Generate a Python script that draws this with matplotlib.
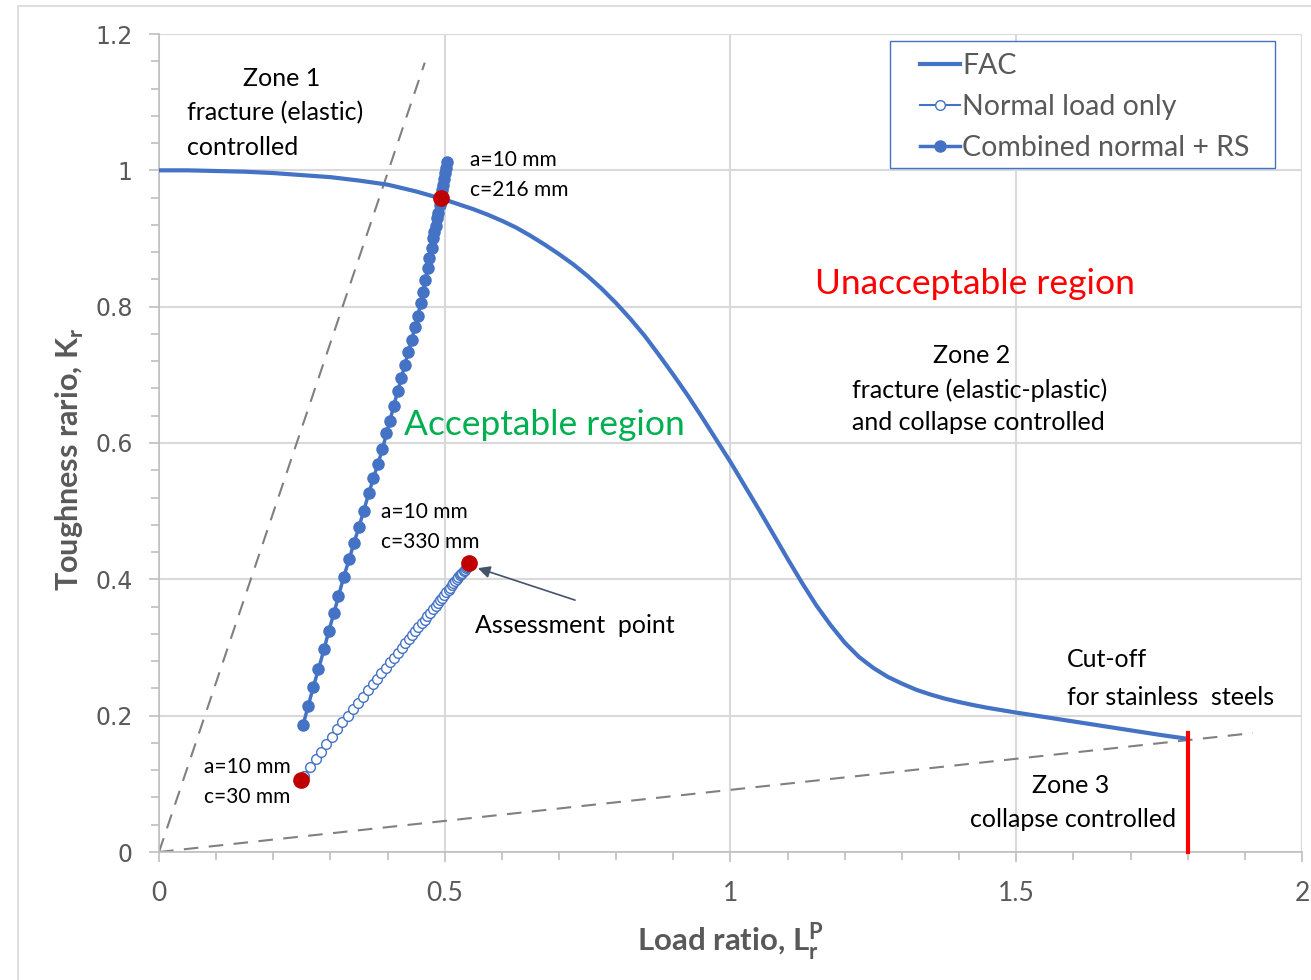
import matplotlib
matplotlib.use("Agg")
import matplotlib.pyplot as plt
from matplotlib.patches import Rectangle
from matplotlib.ticker import MultipleLocator

# ---- Failure assessment curve (FAC) ----
fac_lr = [0.00, 0.05, 0.10, 0.15, 0.20, 0.25, 0.30, 0.35, 0.40, 0.45,
          0.50, 0.525, 0.55, 0.575, 0.60, 0.625, 0.65, 0.675, 0.70, 0.725,
          0.75, 0.775, 0.80, 0.825, 0.85, 0.875, 0.90, 0.925, 0.95, 0.975,
          1.00, 1.025, 1.05, 1.075, 1.10, 1.125, 1.15, 1.175, 1.20, 1.225,
          1.25, 1.275, 1.30, 1.325, 1.35, 1.375, 1.40, 1.425, 1.45, 1.50,
          1.55, 1.60, 1.65, 1.70, 1.75, 1.80]
fac_kr = [1.000, 1.000, 0.999, 0.998, 0.996, 0.993, 0.990, 0.985, 0.979, 0.969,
          0.957, 0.950, 0.943, 0.935, 0.926, 0.916, 0.904, 0.891, 0.877, 0.862,
          0.845, 0.826, 0.805, 0.782, 0.757, 0.729, 0.700, 0.670, 0.638, 0.605,
          0.572, 0.537, 0.502, 0.466, 0.430, 0.395, 0.362, 0.333, 0.307, 0.286,
          0.270, 0.257, 0.247, 0.238, 0.231, 0.225, 0.220, 0.2155, 0.2115, 0.2045,
          0.198, 0.1915, 0.185, 0.1785, 0.172, 0.166]

# ---- Normal load only (a=10 mm, c from 30 to 330 mm) ----
normal_lr = [0.253, 0.264, 0.274, 0.284, 0.293, 0.303, 0.312, 0.321, 0.330, 0.340,
             0.348, 0.357, 0.365, 0.374, 0.382, 0.389, 0.397, 0.404, 0.411, 0.418,
             0.425, 0.431, 0.437, 0.443, 0.448, 0.454, 0.460, 0.465, 0.469, 0.474,
             0.479, 0.484, 0.488, 0.491, 0.495, 0.499, 0.503, 0.507, 0.510, 0.512,
             0.515, 0.518, 0.521, 0.524, 0.527, 0.529, 0.531, 0.533, 0.535, 0.537,
             0.539, 0.541]
normal_kr = [0.112, 0.124, 0.136, 0.147, 0.158, 0.169, 0.180, 0.190, 0.200, 0.210,
             0.219, 0.228, 0.237, 0.246, 0.254, 0.262, 0.270, 0.278, 0.285, 0.292,
             0.299, 0.306, 0.312, 0.318, 0.324, 0.330, 0.336, 0.341, 0.346, 0.351,
             0.356, 0.361, 0.365, 0.369, 0.373, 0.377, 0.381, 0.385, 0.388, 0.391,
             0.394, 0.397, 0.400, 0.403, 0.406, 0.408, 0.410, 0.412, 0.414, 0.416,
             0.418, 0.420]

# ---- Combined normal load + residual stress ----
combined_lr = [0.252, 0.261, 0.270, 0.279, 0.289, 0.297, 0.306, 0.314, 0.323, 0.333,
               0.341, 0.350, 0.358, 0.367, 0.375, 0.383, 0.391, 0.398, 0.404, 0.411,
               0.418, 0.424, 0.430, 0.436, 0.442, 0.448, 0.453, 0.458, 0.462, 0.466,
               0.470, 0.473, 0.477, 0.480, 0.482, 0.484, 0.487, 0.488, 0.491, 0.493,
               0.495, 0.497, 0.499, 0.501, 0.502, 0.504]
combined_kr = [0.186, 0.214, 0.242, 0.268, 0.298, 0.324, 0.350, 0.375, 0.403, 0.430,
               0.453, 0.477, 0.500, 0.526, 0.548, 0.569, 0.591, 0.614, 0.633, 0.655,
               0.677, 0.695, 0.714, 0.733, 0.751, 0.770, 0.787, 0.805, 0.821, 0.839,
               0.856, 0.871, 0.886, 0.900, 0.909, 0.919, 0.930, 0.938, 0.949, 0.959,
               0.971, 0.978, 0.987, 0.996, 1.003, 1.012]

# ---- Highlighted assessment points ----
assess_lr = [0.248, 0.543, 0.493]
assess_kr = [0.106, 0.424, 0.959]

# ---- Zone boundary rays from the origin and the Lr cut-off ----
zone1_ray_lr = [0.0, 0.465]
zone1_ray_kr = [0.0, 1.158]
zone3_ray_lr = [0.0, 1.914]
zone3_ray_kr = [0.0, 0.1745]
cutoff_lr = 1.8
cutoff_kr_top = 0.175

x_ticks = [0, 0.5, 1, 1.5, 2]
x_tick_labels = ["0", "0.5", "1", "1.5", "2"]
y_ticks = [0, 0.2, 0.4, 0.6, 0.8, 1.0, 1.2]
y_tick_labels = ["0", "0.2", "0.4", "0.6", "0.8", "1", "1.2"]

BLUE = "#4472C4"
DARKRED = "#C00000"
GRID = "#D9D9D9"
TICKTXT = "#595959"
TXT_FONT = ["Lato", "DejaVu Sans"]

fig = plt.figure(figsize=(13.11, 9.8), dpi=100)
fig.patch.set_facecolor("white")
# chart-area border
fig.patches.append(Rectangle((18 / 1311, -0.05), 1.2, 1 - 6 / 980 + 0.05,
                             transform=fig.transFigure, fill=False,
                             edgecolor="#D9D9D9", linewidth=1.2, zorder=0))

ax = fig.add_axes([159 / 1311, 1 - 852 / 980, (1302 - 159) / 1311, (852 - 34) / 980])
ax.set_xlim(0, 2)
ax.set_ylim(0, 1.2)

# grid and axes styling
ax.set_xticks(x_ticks)
ax.set_xticklabels(x_tick_labels, fontfamily=TXT_FONT, fontsize=19, color=TICKTXT)
ax.set_yticks(y_ticks)
ax.set_yticklabels(y_tick_labels, fontfamily="DejaVu Sans", fontsize=17, color=TICKTXT)
ax.xaxis.set_minor_locator(MultipleLocator(0.1))
ax.yaxis.set_minor_locator(MultipleLocator(0.04))
ax.tick_params(which="both", direction="out", color="#BFBFBF", width=1.2)
ax.tick_params(which="major", length=7)
ax.tick_params(which="minor", length=6)
ax.tick_params(axis="x", pad=14)
ax.tick_params(axis="y", pad=12)
ax.grid(True, which="major", color=GRID, linewidth=1.5, zorder=0)
for side in ("top", "right"):
    ax.spines[side].set_visible(False)
for side in ("left", "bottom"):
    ax.spines[side].set_color("#BFBFBF")
    ax.spines[side].set_linewidth(1.2)
ax.set_axisbelow(True)

# boundary rays
ax.plot(zone1_ray_lr, zone1_ray_kr, color="#808080", lw=1.5, dashes=(7, 5), zorder=2)
ax.plot(zone3_ray_lr, zone3_ray_kr, color="#808080", lw=1.5, dashes=(7, 5), zorder=2)

# FAC
ax.plot(fac_lr, fac_kr, color=BLUE, lw=3, label="FAC", zorder=3)
# cut-off
ax.plot([cutoff_lr, cutoff_lr], [0, cutoff_kr_top], color="#FF0000", lw=3, zorder=4,
        clip_on=False)

# loading paths
ax.plot(normal_lr, normal_kr, color=BLUE, lw=1.5, marker="o", markersize=7,
        markerfacecolor="white", markeredgecolor=BLUE, markeredgewidth=1.0,
        label="Normal load only", zorder=4)
ax.plot(combined_lr, combined_kr, color=BLUE, lw=2.5, marker="o", markersize=8,
        markerfacecolor=BLUE, markeredgecolor=BLUE, label="Combined normal + RS", zorder=4)

# assessment points
ax.plot(assess_lr, assess_kr, linestyle="none", marker="o", markersize=11,
        color=DARKRED, zorder=6)

# axis titles
ax.set_xlabel(r"Load ratio, L$^{\mathregular{P}}_{\mathregular{r}}$", fontfamily=TXT_FONT,
              fontsize=22.5, fontweight="bold", color=TICKTXT, labelpad=10)
ax.set_ylabel(r"Toughness rario, K$_{\mathregular{r}}$", fontfamily=TXT_FONT,
              fontsize=22, fontweight="bold", color=TICKTXT)
ax.yaxis.set_label_coords(-0.064, 0.48)

# annotations
def note(x, y, s, ha="left", size=18, color="black"):
    ax.text(x, y, s, ha=ha, va="center", fontsize=size, color=color,
            fontfamily=TXT_FONT, zorder=7)

note(0.215, 1.135, "Zone 1", ha="center")
note(0.049, 1.084, "fracture (elastic)")
note(0.049, 1.034, "controlled")
note(0.544, 1.015, "a=10 mm", size=15)
note(0.544, 0.971, "c=216 mm", size=15)
note(1.148, 0.833, "Unacceptable region", size=25.5, color="#FF0000")
note(1.4226, 0.729, "Zone 2", ha="center")
note(1.2126, 0.677, "fracture (elastic-plastic)")
note(1.2126, 0.6305, "and collapse controlled")
note(0.4287, 0.626, "Acceptable region", size=25.5, color="#00B050")
note(0.3885, 0.4985, "a=10 mm", size=15)
note(0.3885, 0.4545, "c=330 mm", size=15)
note(0.553, 0.333, "Assessment  point")
note(1.589, 0.283, "Cut-off")
note(1.589, 0.227, "for stainless  steels")
note(1.596, 0.098, "Zone 3", ha="center")
note(1.419, 0.048, "collapse controlled")
note(0.0787, 0.1246, "a=10 mm", size=15)
note(0.0787, 0.0806, "c=30 mm", size=15)

ax.annotate("", xy=(0.558, 0.4164), xytext=(0.728, 0.3695),
            arrowprops=dict(arrowstyle="-|>", color="#44546A", lw=1.2,
                            mutation_scale=18, shrinkA=0, shrinkB=0), zorder=7)

# legend box
ax.add_patch(Rectangle((0.6395, 0.8362), 0.337, 0.1552, transform=ax.transAxes,
                       facecolor="white", edgecolor=BLUE, linewidth=1.0, zorder=8))
leg = ax.legend(loc="upper left", bbox_to_anchor=(0.6658, 0.9768),
                borderaxespad=0, borderpad=0, frameon=False,
                handlelength=1.4, handletextpad=0.08, labelspacing=0.52,
                prop=dict(family=TXT_FONT, size=20.5))
leg.set_zorder(9)
for t in leg.get_texts():
    t.set_color(TICKTXT)

fig.savefig("out.png", dpi=100, facecolor="white")
